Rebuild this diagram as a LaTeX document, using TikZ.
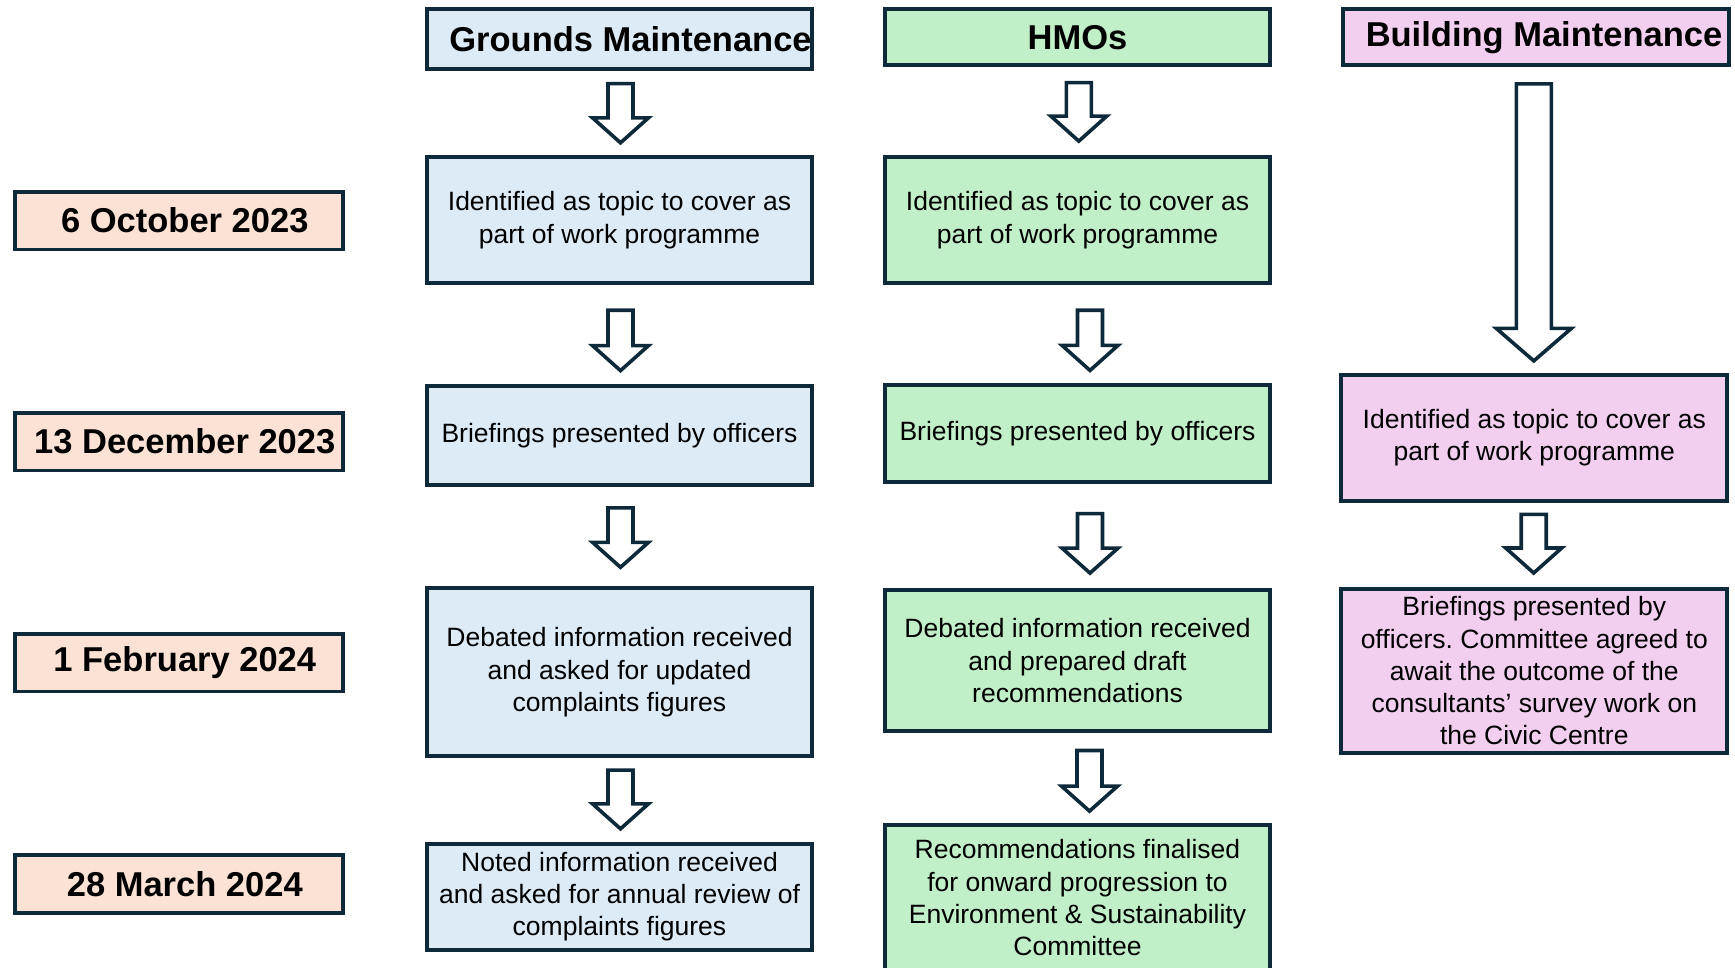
\documentclass[tikz,border=0pt]{standalone}
\usepackage{fontspec}
\setmainfont{Liberation Sans}
\frenchspacing
\usepackage{xcolor}
\usepackage{tikz}
\usetikzlibrary{calc}
\definecolor{edgeblue}{HTML}{0E2A3A}
\definecolor{gfill}{HTML}{DDEBF7}
\definecolor{hfill}{HTML}{C1F0C8}
\definecolor{bfill}{HTML}{F2CEEF}
\definecolor{dfill}{HTML}{FBE2D5}
\tikzset{
  box/.style={rectangle, draw=edgeblue, line width=3.8pt, align=center, inner sep=0pt, font=\fontsize{26.5}{32.3}\selectfont},
  headbox/.style={box, font=\fontsize{34.5}{40}\selectfont\bfseries},
  datebox/.style={headbox, fill=dfill, minimum width=328pt, minimum height=57.8pt, execute at begin node={\hspace*{12pt}}},
  gm_n/.style={box, fill=gfill, minimum width=385pt},
  hmo_n/.style={box, fill=hfill, minimum width=385pt},
  bm_n/.style={box, fill=bfill, minimum width=386pt},
  arrshaft/.store in=\arrshaftw, arrhead/.store in=\arrheadw, arrtip/.store in=\arrtipl,
  arrshaft=12.5pt, arrhead=28pt, arrtip=25pt,
  downarrow/.style={draw=edgeblue, fill=white, line width=3.6pt,
    to path={let \p1=(\tikztostart), \p2=(\tikztotarget) in
      (\x1-\arrshaftw,\y1) -- (\x1+\arrshaftw,\y1) -- (\x1+\arrshaftw,\y2+\arrtipl) -- (\x1+\arrheadw,\y2+\arrtipl)
      -- (\x1,\y2) -- (\x1-\arrheadw,\y2+\arrtipl) -- (\x1-\arrshaftw,\y2+\arrtipl) -- cycle}}
}
\begin{document}
\begin{tikzpicture}[x=1pt, y=-1pt]
\useasboundingbox (0,0) rectangle (1735,967);

\node[datebox] (d1) at (178.8,220.5) {6 October 2023};
\node[datebox] (d2) at (178.8,441.5) {13 December 2023};
\node[datebox] (d3) at (178.8,662.5) {1 February 2024};
\node[datebox] (d4) at (178.8,883.8) {28 March 2024};

\node[headbox, fill=gfill, minimum width=385pt, minimum height=59.5pt] (gh) at (619.5,39) {\hspace*{22pt}Grounds Maintenance};
\node[gm_n, minimum height=126pt] (g1) at (619.5,220) {Identified as topic to cover as\\part of work programme};
\node[gm_n, minimum height=99pt] (g2) at (619.5,435.7) {Briefings presented by officers};
\node[gm_n, minimum height=168pt] (g3) at (619.5,672.2) {Debated information received\\and asked for updated\\complaints figures};
\node[gm_n, minimum height=106pt] (g4) at (619.5,896.7) {Noted information received\\and asked for annual review of\\complaints figures};

\node[headbox, fill=hfill, minimum width=385pt, minimum height=56pt] (hh) at (1077.5,37.3) {HMOs};
\node[hmo_n, minimum height=126pt] (h1) at (1077.5,220) {Identified as topic to cover as\\part of work programme};
\node[hmo_n, minimum height=97pt] (h2) at (1077.5,433.8) {Briefings presented by officers};
\node[hmo_n, minimum height=141pt] (h3) at (1077.5,660.8) {Debated information received\\and prepared draft\\recommendations};
\node[hmo_n, minimum height=145pt] (h4) at (1077.5,897.8) {Recommendations finalised\\for onward progression to\\Environment \& Sustainability\\Committee};

\node[headbox, fill=bfill, minimum width=386pt, minimum height=56pt] (bh) at (1536,37.3) {\hspace*{16pt}Building Maintenance};
\node[bm_n, minimum height=126pt] (b1) at (1534.3,437.8) {Identified as topic to cover as\\part of work programme};
\node[bm_n, minimum height=164pt] (b2) at (1534.3,670.9) {Briefings presented by\\officers. Committee agreed to\\await the outcome of the\\consultants’ survey work on\\the Civic Centre};

\draw[downarrow] ($(gh.south)+(1,13)$) to ($(g1.north)+(1,-12.3)$);
\draw[downarrow] ($(g1.south)+(1,25.3)$) to ($(g2.north)+(1,-13.7)$);
\draw[downarrow] ($(g2.south)+(1,20.7)$) to ($(g3.north)+(1,-19)$);
\draw[downarrow] ($(g3.south)+(1,12)$) to ($(g4.north)+(1,-13)$);

\draw[downarrow] ($(hh.south)+(1.3,15.4)$) to ($(h1.north)+(1.3,-14)$);
\draw[downarrow] ($(h1.south)+(12.5,25.3)$) to ($(h2.north)+(12.5,-13)$);
\draw[downarrow] ($(h2.south)+(12.5,29.4)$) to ($(h3.north)+(12.5,-15.3)$);
\draw[downarrow] ($(h3.south)+(12,17.3)$) to ($(h4.north)+(12,-12.3)$);

\draw[downarrow, arrshaft=17.5pt, arrhead=37.5pt, arrtip=32.5pt] ($(bh.south)+(-2.2,16.7)$) to ($(b1.north)+(-2.2,-12)$);
\draw[downarrow] ($(b1.south)+(-0.6,11.6)$) to ($(b2.north)+(-0.6,-14)$);
\end{tikzpicture}
\end{document}
